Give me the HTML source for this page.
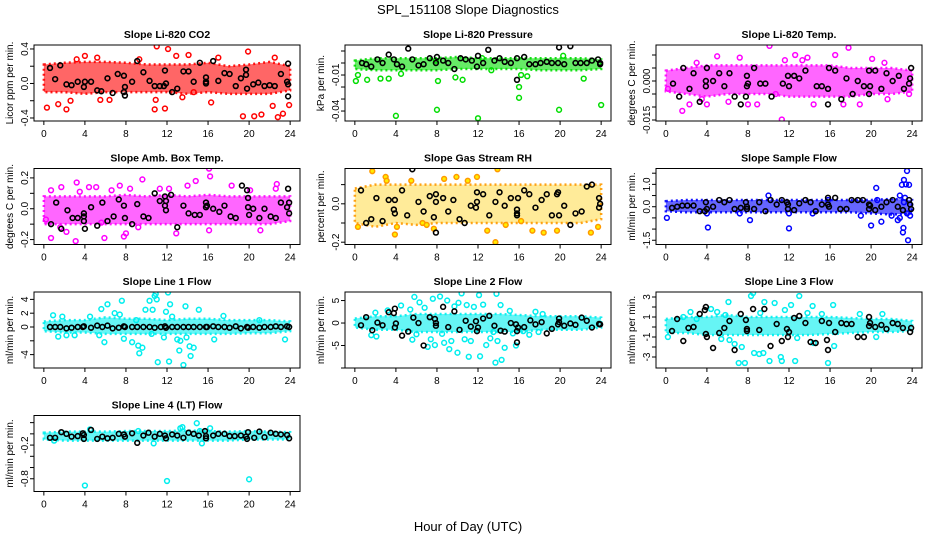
<!DOCTYPE html>
<html><head><meta charset="utf-8"><style>
html,body{margin:0;padding:0;background:#fff;}
svg{display:block;font-family:"Liberation Sans",Arial,sans-serif;}
</style></head><body>
<svg id="chart" width="936" height="540" viewBox="0 0 936 540" xmlns="http://www.w3.org/2000/svg">
<text x="468" y="14" font-size="13" text-anchor="middle">SPL_151108  Slope Diagnostics</text>
<text x="468" y="531" font-size="13" text-anchor="middle">Hour of Day (UTC)</text>
</svg>
<script>
const xTicks=[0,4,8,12,16,20,24];
const bandHours=[0,2,4,6,8,10,12,14,16,18,20,22,24];
const titles=["Slope Li-820 CO2","Slope Li-820 Pressure","Slope Li-820 Temp.","Slope Amb. Box Temp.","Slope Gas Stream RH","Slope Sample Flow","Slope Line 1 Flow","Slope Line 2 Flow","Slope Line 3 Flow","Slope Line 4 (LT) Flow"];
const yTitles=["Licor ppm per min.","kPa per min.","degrees C per min.","degrees C per min.","percent per min.","ml/min per min.","ml/min per min.","ml/min per min.","ml/min per min.","ml/min per min."];
const yDomains=[[-0.435,0.446],[-0.0483,0.015],[-0.01538,0.01385],[-0.232,0.261],[-0.212,0.184],[-1.69,1.71],[-5.94,5.07],[-10,6.9],[-4.1,3.5],[-1.027,0.327]];
const yTicks=[[-0.4,-0.2,0,0.2,0.4],[-0.04,-0.03,-0.02,-0.01,0,0.01],[-0.015,-0.01,-0.005,0,0.005,0.01],[-0.2,-0.1,0,0.1,0.2],[-0.2,-0.1,0,0.1],[-1.5,-1,-0.5,0,0.5,1,1.5],[-4,-2,0,2,4],[-10,-5,0,5],[-3,-2,-1,0,1,2,3],[-0.8,-0.6,-0.4,-0.2,0,0.2]];
const yTickLabels=[{"-0.4":"-0.4","0":"0.0","0.4":"0.4"},{"-0.04":"-0.04","-0.01":"-0.01"},{"-0.015":"-0.015","0":"0.000"},{"-0.2":"-0.2","0":"0.0","0.2":"0.2"},{"-0.2":"-0.2","0":"0.0"},{"-1.5":"-1.5","0":"0.0","1":"1.0"},{"-4":"-4","0":"0","2":"2","4":"4"},{"-5":"-5","0":"0","5":"5"},{"-3":"-3","-1":"-1","1":"1","3":"3"},{"-0.8":"-0.8","-0.2":"-0.2"}];
const colors=["#ff0000","#00dd00","#ff00ff","#ff00ff","#ff9900","#0000ff","#00eeee","#00eeee","#00eeee","#00eeee"];
const bandLo=[[-0.1,-0.1,-0.12,-0.1,-0.1,-0.1,-0.1,-0.12,-0.1,-0.12,-0.12,-0.12,-0.08],[-0.005,-0.006,-0.006,-0.006,-0.006,-0.005,-0.005,-0.005,-0.005,-0.006,-0.006,-0.006,-0.005],[-0.004,-0.005,-0.006,-0.005,-0.005,-0.005,-0.006,-0.006,-0.006,-0.006,-0.005,-0.005,-0.004],[-0.1,-0.1,-0.1,-0.1,-0.1,-0.1,-0.1,-0.1,-0.1,-0.1,-0.1,-0.1,-0.08],[-0.1,-0.12,-0.1,-0.11,-0.1,-0.1,-0.1,-0.1,-0.1,-0.1,-0.1,-0.1,-0.08],[-0.2,-0.25,-0.25,-0.25,-0.25,-0.25,-0.25,-0.25,-0.25,-0.25,-0.3,-0.35,-0.3],[-0.6,-0.8,-0.8,-1.0,-1.0,-1.0,-1.0,-1.0,-1.0,-1.0,-0.9,-0.9,-0.6],[-1.0,-1.5,-1.5,-2.0,-2.0,-2.0,-2.0,-2.0,-2.0,-1.5,-1.5,-1.5,-1.0],[-0.6,-0.6,-0.8,-0.8,-0.8,-0.8,-0.8,-0.8,-0.7,-0.6,-0.5,-0.5,-0.4],[-0.1,-0.12,-0.12,-0.12,-0.12,-0.12,-0.12,-0.12,-0.12,-0.12,-0.1,-0.1,-0.1]];
const bandHi=[[0.22,0.24,0.25,0.25,0.24,0.22,0.22,0.22,0.24,0.2,0.22,0.25,0.2],[0.002,0.004,0.004,0.004,0.004,0.005,0.004,0.004,0.004,0.004,0.004,0.004,0.003],[0.004,0.005,0.006,0.006,0.006,0.006,0.006,0.006,0.006,0.005,0.005,0.005,0.004],[0.08,0.08,0.08,0.08,0.09,0.08,0.09,0.08,0.09,0.08,0.08,0.08,0.08],[0.08,0.1,0.1,0.1,0.1,0.1,0.1,0.1,0.1,0.1,0.1,0.1,0.1],[0.25,0.3,0.3,0.3,0.3,0.3,0.3,0.3,0.3,0.3,0.3,0.35,0.3],[0.8,1.0,1.0,1.4,1.2,1.2,1.0,1.2,1.2,1.0,1.0,1.0,0.8],[1.0,1.5,1.5,2.0,2.0,2.0,2.0,2.0,1.8,1.5,1.5,1.5,1.2],[0.8,1.0,1.0,1.2,1.0,1.0,1.0,1.0,1.0,0.9,0.8,0.8,0.6],[0.02,0.04,0.04,0.04,0.05,0.05,0.05,0.06,0.05,0.04,0.05,0.04,0.03]];
const outliers=[
[[0.3,-0.28],[1.4,-0.24],[2.2,-0.3],[2.6,-0.2],[3.2,0.28],[4,0.32],[5.2,0.3],[5.5,-0.19],[6.4,-0.19],[9.3,0.28],[10.8,-0.3],[10.9,-0.19],[11,0.43],[11.8,-0.29],[12.1,0.4],[12.9,0.32],[13.5,-0.16],[14.1,0.33],[14.6,-0.1],[16.3,-0.22],[17,0.3],[19.4,-0.38],[19.9,0.37],[20.5,-0.38],[21.2,-0.36],[22.3,-0.26],[22.8,-0.39],[23.3,-0.35],[23.9,-0.25],[22.5,0.3]],
[[0.1,-0.015],[0.3,-0.01],[1.2,-0.014],[2.5,-0.013],[3.3,-0.013],[4.0,-0.044],[4.5,-0.009],[8.0,-0.039],[8.1,-0.015],[9.8,-0.012],[10.5,-0.014],[12.0,-0.046],[12.4,0.004],[13.3,-0.006],[16.0,-0.02],[16.0,-0.029],[16.2,-0.01],[16.8,-0.011],[19.9,-0.039],[20.3,0.006],[22.3,-0.013],[24.0,-0.035],[7.9,0.002]],
[[0.2,-0.003],[1.6,-0.0115],[2.3,-0.009],[3.0,0.007],[3.5,-0.007],[4.0,-0.009],[5.0,0.0095],[6.1,-0.008],[7.2,0.009],[8.0,-0.009],[8.9,-0.009],[10.1,0.0135],[10.7,-0.005],[11.3,-0.0148],[11.6,0.008],[12.6,0.010],[13.3,0.008],[13.8,0.009],[14.4,-0.009],[16.5,0.010],[17.3,-0.009],[17.8,0.0128],[18.9,-0.009],[20.1,0.0085],[21.3,0.007],[21.6,-0.007],[23.7,-0.005]],
[[0.2,-0.07],[0.7,0.12],[0.7,-0.19],[1.6,-0.12],[1.7,0.14],[2.2,-0.15],[3.1,-0.21],[3.2,0.17],[3.5,0.11],[4.4,0.14],[5.1,0.14],[5.6,-0.09],[5.9,-0.19],[6.6,0.12],[7.4,0.15],[7.8,-0.18],[8.0,-0.16],[8.4,0.13],[9.2,-0.12],[9.6,0.19],[11.3,0.13],[12.2,0.13],[12.9,-0.16],[14.0,0.15],[14.8,0.18],[16.1,0.26],[16.2,0.21],[16.1,-0.14],[18.3,0.15],[20.1,0.12],[21.1,-0.14],[22.7,0.16],[22.6,0.13]],
[[0.3,-0.12],[1.7,0.17],[3.0,0.14],[3.1,0.12],[3.9,-0.16],[4.1,-0.12],[5.5,0.12],[6.6,-0.1],[7.0,-0.11],[7.7,-0.13],[8.7,0.13],[9.9,0.14],[11.0,0.12],[11.9,0.14],[12.9,-0.14],[13.7,-0.2],[13.9,0.18],[14.7,-0.11],[16.2,-0.09],[17.3,-0.14],[18.4,-0.15],[19.7,-0.14],[23.0,-0.15],[23.7,-0.12]],
[[0.1,-0.5],[4.0,-0.3],[4.1,-0.93],[7.2,-0.3],[8.2,-0.6],[10.0,0.5],[12.0,-0.97],[12.0,-0.3],[14.3,-0.3],[15.8,0.3],[19.0,-0.4],[20.0,-0.84],[20.5,0.84],[20.6,0.3],[21.0,-0.67],[22.0,-0.4],[22.6,-0.6],[22.8,-0.5],[23.0,0.98],[23.1,-1.15],[23.15,-0.95],[23.2,1.2],[23.3,0.4],[23.4,1.0],[23.5,1.6],[23.6,-1.5],[23.7,0.98],[23.8,-0.4],[22.8,0.5],[23.2,0.2],[23.5,-0.3]],
[[0.9,1.7],[1.4,-1.4],[1.8,1.5],[2.2,-1.2],[3.0,-1.2],[4.5,1.5],[5.4,-1.2],[5.6,2.6],[5.9,-2.2],[6.2,3.3],[6.9,2.0],[7.4,1.8],[7.6,3.8],[7.8,-1.7],[8.6,-2.2],[9.0,1.0],[9.2,-2.7],[9.3,-3.8],[9.6,-3.0],[9.9,2.5],[10.3,3.8],[10.5,-1.0],[10.6,2.5],[10.8,4.5],[10.9,4.8],[11.0,4.0],[11.1,-5.1],[11.7,-1.5],[11.9,2.2],[12.1,5.0],[12.2,-5.0],[12.3,3.3],[12.5,1.5],[13.0,-1.8],[13.2,-3.4],[13.3,-2.0],[13.6,-5.5],[13.8,3.0],[13.9,-1.5],[14.2,-2.8],[14.3,-4.2],[14.6,-3.0],[15.1,2.5],[16.6,-1.8],[17.5,1.6],[23.5,-1.8],[21.0,1.0]],
[[1.6,-2.7],[2.1,-3.0],[2.0,2.3],[3.2,2.8],[4.5,3.9],[5.4,3.0],[5.6,-3.7],[5.8,5.8],[6.0,-2.5],[6.3,4.6],[6.8,3.4],[7.1,-5.3],[7.4,-3.6],[7.6,5.4],[7.8,-4.9],[8.3,5.9],[8.5,-2.4],[8.7,-4.4],[9.0,5.0],[9.2,-5.8],[9.4,-4.0],[9.7,3.7],[10.0,-6.6],[10.1,4.5],[10.4,6.6],[10.7,-3.6],[10.9,4.0],[11.1,-7.5],[11.3,-4.0],[11.6,3.6],[12.1,6.2],[12.2,-7.4],[12.5,4.1],[12.8,-4.9],[13.2,-3.4],[13.5,-2.0],[13.7,-8.8],[13.8,6.5],[13.9,-4.0],[14.2,4.0],[14.3,-8.2],[14.6,-5.5],[15.1,2.7],[15.4,-2.3],[15.7,-5.0],[16.4,-1.8],[17.0,-2.6],[17.6,2.5],[17.9,-2.0],[18.3,2.0]],
[[0.2,-1.0],[1.7,1.0],[2.4,1.5],[3.0,0.8],[4.4,1.8],[5.0,1.5],[5.4,-1.2],[5.8,1.2],[6.1,2.5],[6.2,-1.3],[6.7,-1.7],[7.1,-3.6],[7.4,-2.0],[7.7,-3.6],[8.3,3.1],[8.5,3.4],[8.6,-2.6],[9.1,-2.7],[9.2,1.4],[9.5,-2.6],[9.6,2.5],[10.1,-3.4],[10.6,2.4],[11.2,-3.0],[11.3,-3.4],[11.6,1.7],[12.2,2.2],[12.6,-3.4],[12.8,-1.1],[13.0,3.1],[13.8,1.4],[14.3,2.1],[14.4,-1.6],[15.2,1.3],[15.8,-3.6],[16.3,2.2],[16.4,-1.9],[18.9,1.3],[20.5,-1.0],[21.1,1.3]],
[[4.0,-0.92],[12.0,-0.84],[20.0,-0.81],[13.3,0.1],[13.5,0.12],[14.9,0.19],[15.2,0.05],[16.2,0.1],[9.2,0.05],[10.7,-0.17],[15.4,-0.17],[1.0,-0.12],[4.5,0.08]]];
const blackPts=[
[[0.6,0.18],[1.1,0.05],[1.6,0.21],[2.2,-0.01],[2.7,-0.02],[3.3,0.02],[3.9,-0.04],[4.0,0.02],[4.6,0.02],[5.2,-0.08],[5.6,-0.09],[6.2,0.06],[6.7,-0.11],[7.2,0.11],[7.8,-0.1],[7.9,-0.14],[7.8,0.09],[7.9,-0.04],[8.6,0.02],[9.1,0.26],[9.7,0.13],[10.3,0.03],[10.8,-0.03],[11.3,-0.03],[11.7,-0.03],[11.8,0.15],[11.9,0.0],[12.5,-0.1],[13.0,-0.06],[13.6,0.14],[14.1,0.14],[14.6,0.02],[15.2,0.24],[15.8,0.07],[15.8,0.02],[15.8,0.0],[16.5,0.26],[17.0,0.03],[17.6,0.12],[18.1,0.11],[18.7,-0.03],[19.2,0.06],[19.7,0.16],[19.7,0.1],[19.8,-0.06],[20.4,-0.01],[20.9,0.01],[21.5,-0.03],[22.0,-0.02],[22.5,-0.03],[23.1,0.11],[23.7,0.02],[23.8,-0.15],[23.8,0.23],[23.8,-0.01]],
[[0.7,0.0],[1.1,-0.001],[1.6,-0.003],[2.2,0.003],[2.7,0.0],[3.3,0.007],[3.8,0.003],[4.1,-0.001],[4.6,-0.003],[5.2,0.012],[5.6,0.003],[6.2,-0.002],[6.7,-0.001],[7.3,0.004],[7.9,0.0],[8.0,0.005],[8.6,0.002],[9.1,0.0],[9.7,-0.005],[10.3,0.004],[10.8,0.003],[11.4,0.002],[11.9,-0.003],[12.0,0.006],[12.5,0.0],[13.0,0.011],[13.6,0.002],[14.1,0.004],[14.6,0.001],[15.2,0.0],[15.8,-0.014],[15.8,0.004],[16.5,0.005],[17.0,-0.001],[17.6,-0.001],[18.1,0.0],[18.7,0.001],[19.2,0.0],[19.8,0.0],[19.9,0.013],[20.4,-0.001],[21.0,0.014],[21.5,0.0],[22.0,0.0],[22.6,0.0],[23.1,0.002],[23.7,0.003],[23.9,0.0],[23.9,-0.001]],
[[0.7,-0.001],[1.3,-0.006],[1.7,0.005],[2.3,-0.003],[2.7,0.003],[3.3,-0.008],[3.9,-0.002],[3.9,0.0],[4.0,0.005],[4.6,0.0],[5.2,0.003],[5.7,-0.002],[6.2,0.003],[6.7,-0.006],[7.3,-0.009],[7.8,-0.006],[7.9,-0.002],[7.9,0.002],[8.0,-0.001],[8.6,0.005],[9.2,-0.001],[9.7,-0.001],[10.3,-0.006],[11.4,-0.001],[11.9,0.002],[12.0,-0.002],[12.5,0.002],[13.0,0.001],[13.6,0.004],[14.7,-0.002],[15.2,-0.002],[15.8,-0.003],[15.8,-0.009],[15.9,0.005],[16.5,0.004],[17.1,-0.007],[17.6,0.001],[18.2,-0.005],[18.7,0.0],[19.3,-0.002],[19.8,-0.005],[19.8,0.004],[19.9,-0.002],[20.4,0.004],[21.0,-0.003],[21.5,0.003],[22.1,0.0],[22.7,0.002],[23.2,-0.003],[23.7,-0.001],[23.8,0.001],[23.9,0.005]],
[[0.7,-0.1],[1.2,0.04],[1.7,-0.13],[2.3,-0.01],[2.8,-0.06],[3.3,-0.06],[3.9,-0.08],[3.9,-0.05],[3.9,-0.03],[4.0,-0.13],[4.6,0.01],[5.2,-0.11],[5.7,0.04],[6.2,-0.08],[6.8,-0.05],[7.3,0.06],[7.8,0.02],[7.9,-0.06],[8.6,-0.1],[9.1,0.03],[9.7,-0.05],[10.2,-0.06],[10.8,0.1],[11.3,0.05],[11.8,0.08],[11.8,0.02],[11.9,-0.01],[11.9,0.05],[12.4,0.09],[13.0,-0.12],[13.6,0.02],[14.1,-0.03],[14.7,-0.04],[15.2,-0.04],[15.8,0.04],[15.8,0.01],[15.9,0.02],[16.5,0.0],[17.1,-0.02],[17.6,0.02],[18.2,-0.05],[18.7,-0.06],[19.3,0.15],[19.8,0.12],[19.9,0.07],[19.9,0.01],[20.0,-0.04],[20.4,0.0],[21.0,-0.06],[21.5,0.0],[22.1,-0.05],[22.6,-0.06],[23.1,0.04],[23.7,0.01],[23.8,0.13],[23.9,0.04],[23.9,-0.03]],
[[0.6,0.07],[1.1,-0.1],[1.6,-0.08],[2.1,0.03],[2.7,-0.09],[3.3,0.02],[3.8,-0.03],[3.9,0.02],[3.9,-0.05],[4.6,0.07],[5.1,-0.06],[5.6,0.18],[6.2,0.01],[6.7,-0.04],[7.3,0.04],[7.7,-0.07],[7.9,-0.15],[7.9,0.01],[7.9,0.05],[8.6,0.03],[9.1,-0.04],[9.6,0.02],[10.2,-0.08],[10.7,-0.1],[11.3,-0.01],[11.8,-0.02],[11.9,0.06],[11.9,0.01],[12.5,0.05],[13.1,-0.06],[13.7,0.01],[14.1,0.06],[14.6,-0.01],[15.2,0.03],[15.8,-0.03],[15.8,-0.05],[15.8,-0.06],[15.9,0.03],[16.5,0.07],[17.0,0.05],[17.6,-0.02],[18.2,0.02],[18.7,0.05],[19.2,-0.06],[19.7,0.05],[19.8,0.06],[19.9,-0.06],[20.4,-0.01],[21.0,-0.11],[21.5,-0.05],[22.1,-0.04],[22.6,0.09],[23.1,0.1],[23.8,0.03],[23.8,-0.02],[23.9,0.0]],
[[0.6,-0.05],[1.1,0.0],[1.6,0.05],[2.1,0.05],[2.7,0.05],[3.3,-0.2],[3.8,-0.2],[3.9,0.2],[4.0,-0.1],[4.6,0.0],[5.2,0.3],[5.7,0.2],[6.2,0.3],[6.7,-0.1],[7.3,-0.05],[7.8,0.2],[7.9,-0.1],[7.9,0.0],[8.6,-0.1],[9.1,0.2],[9.7,-0.2],[10.2,0.3],[10.8,0.1],[11.3,0.3],[11.8,0.2],[11.9,-0.1],[11.9,0.1],[12.5,-0.15],[13.0,0.15],[13.6,0.3],[14.1,0.2],[14.6,-0.2],[15.2,0.1],[15.8,0.4],[15.8,0.1],[15.9,0.0],[16.5,0.4],[17.0,-0.1],[17.6,-0.1],[18.1,0.3],[18.7,0.3],[19.2,0.3],[19.8,0.1],[19.8,-0.1],[19.9,0.05],[20.4,-0.15],[21.0,0.0],[21.5,0.2],[22.1,0.3],[22.6,0.0],[23.1,-0.15],[23.7,0.3],[23.8,0.1],[23.9,-0.1]],
[[0.6,0],[1.1,0],[1.6,0],[2.2,-0.2],[2.7,-0.1],[3.3,0],[3.8,0],[3.9,0.1],[4.6,-0.1],[5.2,0.2],[5.7,0],[6.2,0.2],[6.7,-0.2],[7.3,-0.1],[7.8,0.1],[7.9,0],[8.6,0],[9.1,0],[9.7,0],[10.3,0],[10.8,-0.1],[11.4,0],[11.8,0.1],[11.9,-0.1],[12.5,0],[13.0,0],[13.6,0],[14.1,0],[14.6,0],[15.2,0],[15.8,0],[15.9,0],[16.5,0.1],[17.0,0],[17.6,0],[18.1,-0.1],[18.7,0.1],[19.2,-0.2],[19.8,0],[19.9,-0.1],[20.4,0],[21.0,-0.1],[21.5,0],[22.1,0],[22.6,0.1],[23.1,0],[23.7,0.1],[23.9,0]],
[[0.6,-0.5],[1.1,1.3],[1.7,-1.6],[2.2,0.1],[2.7,-0.5],[3.3,2.4],[3.8,2.2],[3.9,3.2],[3.9,-1.0],[4.0,-0.1],[4.6,-2.8],[5.2,-1.9],[5.7,1.2],[6.2,0.0],[6.7,-5.0],[7.3,1.3],[7.8,0.9],[7.9,0.0],[7.9,-0.6],[8.6,3.6],[9.1,-0.9],[9.7,2.6],[10.2,-1.5],[10.8,0.5],[11.3,-0.8],[11.8,0.4],[11.9,-1.8],[12.0,-1.0],[12.5,1.0],[13.1,1.6],[13.6,-0.6],[14.2,-1.7],[14.6,-1.9],[15.2,0.0],[15.7,-0.3],[15.8,-4.3],[15.8,-1.8],[15.9,-1.0],[16.5,-0.9],[17.1,0.6],[17.6,-0.3],[18.2,0.2],[18.7,-2.3],[19.2,-1.3],[19.8,-0.3],[19.9,0.2],[19.9,1.0],[20.4,-0.6],[21.0,-0.1],[21.5,-0.4],[22.1,1.2],[22.6,0.5],[23.1,-1.0],[23.8,-0.2],[23.9,-0.3]],
[[0.6,-0.4],[1.1,0.8],[1.7,-1.4],[2.2,-0.1],[2.7,0.0],[3.3,1.3],[3.8,1.7],[3.9,2.0],[3.9,-0.7],[4.0,-1.0],[4.6,-2.1],[5.2,-0.6],[5.7,-0.1],[6.2,0.6],[6.7,-2.3],[7.3,1.3],[7.8,0.7],[7.9,-0.2],[7.9,-0.4],[8.5,1.8],[9.1,-0.3],[9.6,1.8],[10.2,-1.9],[10.8,0.3],[11.3,-1.4],[11.8,-0.2],[11.9,-1.0],[12.0,-0.5],[12.5,0.9],[13.0,1.1],[13.6,0.4],[14.1,-1.5],[14.6,-1.6],[15.2,0.6],[15.7,-1.3],[15.8,-2.3],[15.9,0.4],[16.5,-0.5],[17.1,0.4],[17.6,0.3],[18.1,0.3],[18.7,-1.0],[19.3,-1.0],[19.8,0.1],[19.8,1.0],[19.9,0.4],[20.4,0.0],[21.0,0.2],[21.5,-0.2],[22.1,0.4],[22.6,0.3],[23.1,-0.1],[23.8,-0.5],[23.9,-0.1]],
[[0.6,-0.07],[1.1,-0.07],[1.7,0.03],[2.2,0.0],[2.7,-0.05],[3.3,-0.04],[3.8,0.01],[3.9,-0.02],[3.9,-0.09],[4.6,0.07],[5.2,-0.09],[5.7,-0.05],[6.2,-0.08],[6.7,-0.07],[7.3,0.0],[7.8,-0.01],[7.9,-0.05],[8.6,0.01],[9.1,-0.16],[9.7,-0.03],[10.2,0.02],[10.8,-0.05],[11.3,0.0],[11.8,-0.03],[11.9,-0.08],[12.5,-0.01],[13.0,-0.03],[13.6,-0.07],[14.1,0.02],[14.6,0.0],[15.1,-0.03],[15.7,0.05],[15.8,-0.04],[15.8,-0.08],[16.5,-0.03],[17.0,0.0],[17.6,0.0],[18.1,-0.04],[18.6,-0.04],[19.2,-0.03],[19.7,-0.05],[19.8,-0.09],[19.9,0.03],[20.5,-0.07],[21.0,0.04],[21.5,-0.06],[22.1,0.02],[22.6,0.0],[23.1,-0.01],[23.7,-0.02],[23.9,-0.08]]];

const svg=document.getElementById('chart');
const NS='http://www.w3.org/2000/svg';
function mk(tag,attrs,parent){const e=document.createElementNS(NS,tag);for(const k in attrs)e.setAttribute(k,attrs[k]);parent.appendChild(e);return e;}
const colLeft=[34,345,656], rowTop=[45,168.5,292,415.5], W=266, H=76;
for(let p=0;p<10;p++){
  const bx=colLeft[p%3], by=rowTop[Math.floor(p/3)];
  const g=mk('g',{},svg);
  
  
  const xs=v=>bx+W*(v+0.96)/25.92;
  const [d0,d1]=yDomains[p];
  const ys=v=>by+H*(d1-v)/(d1-d0);
  const t=mk('text',{x:bx+W/2,y:by-7,'font-size':10.5,'font-weight':'bold','text-anchor':'middle'},g);
  t.textContent=titles[p];
  
  
  const yt=mk('text',{x:0,y:0,'font-size':10,'text-anchor':'middle',transform:`translate(${bx-21},${by+H/2}) rotate(-90)`},g);
  yt.textContent=yTitles[p];
  
  
  const clip=mk('clipPath',{id:'c'+p},g);
  mk('rect',{x:bx,y:by,width:W,height:H},clip);
  const plot=mk('g',{'clip-path':`url(#c${p})`},g);
  let pts=bandHours.map((h,i)=>xs(h)+','+ys(bandHi[p][i]));
  pts=pts.concat(bandHours.map((h,i)=>xs(h)+','+ys(bandLo[p][i])).reverse());
  const band=mk('polygon',{points:pts.join(' '),fill:p==4?'#ffdd55':colors[p],'fill-opacity':0.6,stroke:colors[p],'stroke-width':2.5,'stroke-dasharray':'2 3','stroke-opacity':0.9},plot);
  
  
  outliers[p].forEach(([x,y])=>{
    const c=mk('circle',{cx:xs(x),cy:ys(y),r:2.4,fill:p==4?'#ffee00':'none',stroke:colors[p],'stroke-width':1.5},plot);
    
    
  });
  blackPts[p].forEach(([x,y])=>{
    const c=mk('circle',{cx:xs(x),cy:ys(y),r:2.4,fill:'none',stroke:'#000','stroke-width':1.6},plot);
    
    
  });
  const box=mk('rect',{x:bx,y:by,width:W,height:H,fill:'none',stroke:'#000','stroke-width':1},g);
  
  
  xTicks.forEach(v=>{
    mk('line',{x1:xs(v),x2:xs(v),y1:by+H,y2:by+H+4,stroke:'#000'},g);
    const l=mk('text',{x:xs(v),y:by+H+16,'font-size':10,'text-anchor':'middle'},g);
    l.textContent=v;
    
    
  });
  yTicks[p].forEach(v=>{
    mk('line',{x1:bx-4,x2:bx,y1:ys(v),y2:ys(v),stroke:'#000'},g);
    const lab=yTickLabels[p][String(v)];
    if(lab!==undefined){
      const l=mk('text',{x:0,y:0,'font-size':10,'text-anchor':'middle',transform:`translate(${bx-6},${ys(v)}) rotate(-90)`},g);
      l.textContent=lab;
      
      
    }
  });
}
</script>
</body></html>
